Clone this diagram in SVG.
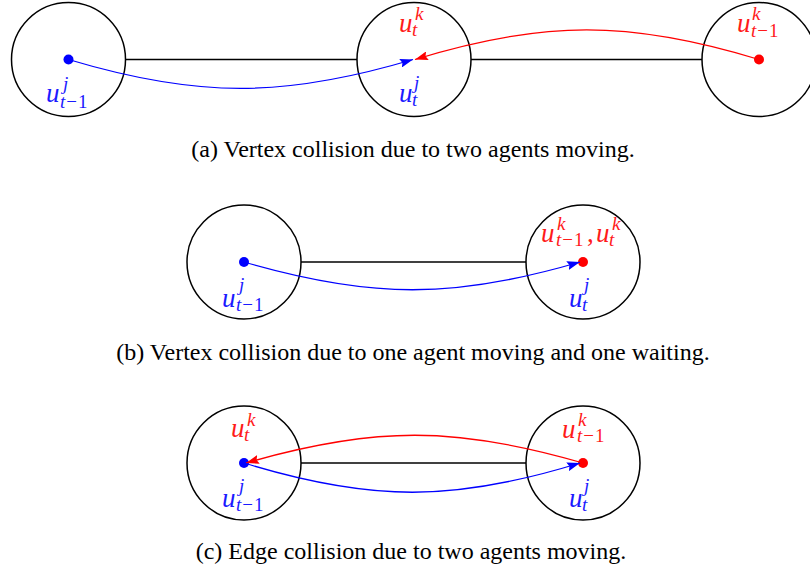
<svg xmlns="http://www.w3.org/2000/svg" width="810" height="571" viewBox="0 0 810 571">
<style>
.node{fill:none;stroke:#000;stroke-width:1.5}
.edge{stroke:#000;stroke-width:1.5;fill:none}
.b{stroke:#0000ff;stroke-width:1.3;fill:none}
.r{stroke:#ff0000;stroke-width:1.3;fill:none}
.m{font-family:"Liberation Serif","Times New Roman",serif;font-style:italic;font-size:27px}
.s{font-size:19px}
.up{font-style:normal}
.bt{fill:#1a1aff}
.rt{fill:#ff1a1a}
.cap{font-family:"Liberation Serif","Times New Roman",serif;font-size:24px;fill:#000;text-anchor:middle}
</style>
<defs>
<marker id="ab" viewBox="0 0 13 9" refX="13" refY="4.5" markerWidth="13" markerHeight="9" markerUnits="userSpaceOnUse" orient="auto"><path d="M0,0 L13,4.5 L0,9 L2,4.5 Z" fill="#0000ff"/></marker>
<marker id="ar" viewBox="0 0 13 9" refX="13" refY="4.5" markerWidth="13" markerHeight="9" markerUnits="userSpaceOnUse" orient="auto"><path d="M0,0 L13,4.5 L0,9 L2,4.5 Z" fill="#ff0000"/></marker>
</defs>
<g id="nodes-a">
<g id="a1"><circle class="node" cx="68.5" cy="59.5" r="57"/><circle cx="68.5" cy="59.5" r="5" fill="#0000ff"/></g>
<g id="a2"><circle class="node" cx="414" cy="59.5" r="57"/></g>
<g id="a3"><circle class="node" cx="759" cy="59.5" r="57"/><circle cx="759" cy="59.5" r="5" fill="#ff0000"/></g>
</g>
<g id="nodes-b">
<g id="b1"><circle class="node" cx="244" cy="262" r="57"/><circle cx="244" cy="262" r="5" fill="#0000ff"/></g>
<g id="b2"><circle class="node" cx="583" cy="262" r="57"/><circle cx="583" cy="262" r="5" fill="#ff0000"/></g>
</g>
<g id="nodes-c">
<g id="c1"><circle class="node" cx="244" cy="463" r="57"/><circle cx="244" cy="463" r="5" fill="#0000ff"/></g>
<g id="c2"><circle class="node" cx="583" cy="463" r="57"/><circle cx="583" cy="463" r="5" fill="#ff0000"/></g>
</g>
<g id="connectors">
<line class="edge" x1="125.5" y1="59.5" x2="357" y2="59.5"/>
<line class="edge" x1="471" y1="59.5" x2="702" y2="59.5"/>
<line class="edge" x1="301" y1="262" x2="526" y2="262"/>
<line class="edge" x1="301" y1="463" x2="526" y2="463"/>
<path class="b" d="M68.5,59.5 C197,98 284,98 413,59.5" marker-end="url(#ab)"/>
<path class="r" d="M759,59.5 C630,20 543,20 415,59.5" marker-end="url(#ar)"/>
<path class="b" d="M244,262 C371,299 454,299 580,262" marker-end="url(#ab)"/>
<path class="r" d="M583,463 C456,426 373,426 246,463" marker-end="url(#ar)"/>
<path class="b" d="M244,463 C371,502 454,502 580,463" marker-end="url(#ab)"/>
</g>
<g id="labels">
<text class="m bt" x="46" y="102">u<tspan class="s" x="63" y="90">j</tspan><tspan class="s" x="60" y="108">t</tspan><tspan class="s up" dx="1">−</tspan><tspan class="s up" dx="1">1</tspan></text>
<text class="m rt" x="399" y="32">u<tspan class="s" x="415" y="20">k</tspan><tspan class="s" x="412" y="36">t</tspan></text>
<text class="m bt" x="399" y="102">u<tspan class="s" x="414" y="89">j</tspan><tspan class="s" x="412" y="106">t</tspan></text>
<text class="m rt" x="737" y="32">u<tspan class="s" x="752" y="20">k</tspan><tspan class="s" x="751" y="37">t</tspan><tspan class="s up" dx="1">−</tspan><tspan class="s up" dx="1">1</tspan></text>

<text class="m bt" x="222" y="307">u<tspan class="s" x="239" y="291">j</tspan><tspan class="s" x="236" y="311">t</tspan><tspan class="s up" dx="1">−</tspan><tspan class="s up" dx="1">1</tspan></text>
<text class="m rt" x="541" y="242">u<tspan class="s" x="557" y="230">k</tspan><tspan class="s" x="556" y="246">t</tspan><tspan class="s up" dx="1">−</tspan><tspan class="s up" dx="1">1</tspan><tspan class="up" x="587" y="242">,</tspan><tspan x="596" y="242">u</tspan><tspan class="s" x="612" y="230">k</tspan><tspan class="s" x="609" y="246">t</tspan></text>
<text class="m bt" x="569" y="307">u<tspan class="s" x="584" y="291">j</tspan><tspan class="s" x="582" y="311">t</tspan></text>

<text class="m rt" x="231" y="437">u<tspan class="s" x="247" y="426">k</tspan><tspan class="s" x="244" y="441">t</tspan></text>
<text class="m bt" x="222" y="507">u<tspan class="s" x="239" y="492">j</tspan><tspan class="s" x="236" y="511">t</tspan><tspan class="s up" dx="1">−</tspan><tspan class="s up" dx="1">1</tspan></text>
<text class="m rt" x="562" y="438">u<tspan class="s" x="578" y="426">k</tspan><tspan class="s" x="577" y="442">t</tspan><tspan class="s up" dx="1">−</tspan><tspan class="s up" dx="1">1</tspan></text>
<text class="m bt" x="569" y="507">u<tspan class="s" x="584" y="492">j</tspan><tspan class="s" x="582" y="511">t</tspan></text>
</g>
<g id="captions">
<text class="cap" x="413" y="157">(a) Vertex collision due to two agents moving.</text>
<text class="cap" x="413" y="360">(b) Vertex collision due to one agent moving and one waiting.</text>
<text class="cap" x="411" y="559">(c) Edge collision due to two agents moving.</text>
</g>
</svg>
